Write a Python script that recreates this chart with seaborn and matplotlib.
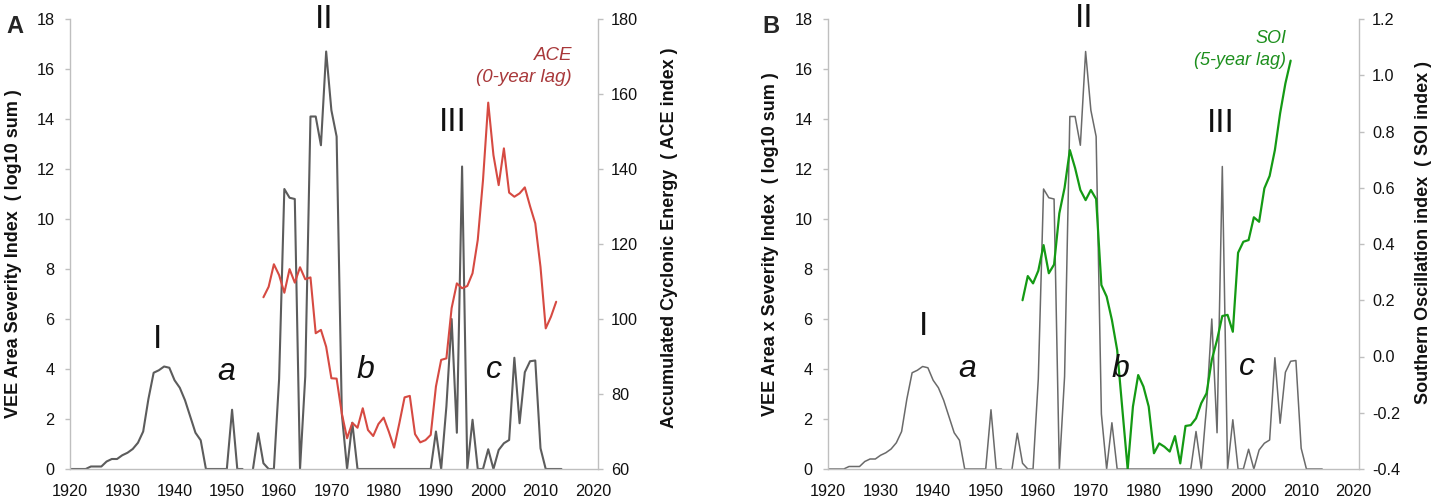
import numpy as np
import pandas as pd
import matplotlib
matplotlib.use("Agg")
import matplotlib.pyplot as plt
import seaborn as sns
from matplotlib.ticker import MultipleLocator, FormatStrFormatter

# ---------------- data ----------------
years = list(range(1920, 2015))
vee_index = [0, 0, 0, 0, 0.1, 0.1, 0.1, 0.3, 0.4, 0.4,
             0.55, 0.65, 0.8, 1.05, 1.5, 2.8, 3.85, 3.95, 4.1, 4.05,
             3.55, 3.25, 2.75, 2.1, 1.45, 1.15, 0, 0, 0, 0,
             0, 2.37, 0, 0, np.nan, 0, 1.43, 0.23, 0, 0,
             3.6, 11.2, 10.85, 10.8, 0, 3.7, 14.1, 14.1, 12.95, 16.7,
             14.35, 13.3, 2.2, 0, 1.85, 0, 0, 0, 0, 0,
             0, 0, 0, 0, 0, 0, 0, 0, 0, 0,
             1.5, 0, 2.5, 6.0, 1.45, 12.1, 0, 1.97, 0, 0,
             0.79, 0, 0.76, 1.03, 1.16, 4.45, 1.83, 3.87, 4.31, 4.34,
             0.83, 0, 0, 0, 0]

ace_years = list(range(1957, 2014))
ace_index = [105.8, 108.6, 114.6, 111.7, 107.0, 113.3, 109.7, 113.8, 110.6, 111.1,
             96.2, 97.1, 92.6, 84.2, 84.1, 74.8, 68.2, 72.3, 71.0, 76.2,
             70.4, 68.8, 72.0, 73.7, 69.9, 65.7, 72.2, 79.1, 79.5, 69.3,
             67.1, 67.7, 69.1, 82.0, 89.1, 89.5, 102.9, 109.5, 108.2, 108.8,
             112.2, 121.1, 137.0, 157.7, 143.7, 135.7, 145.5, 133.7, 132.6, 133.5,
             135.1, 130.1, 125.5, 113.9, 97.5, 100.6, 104.6]

soi_years = list(range(1957, 2009))
soi_index = [0.20, 0.286, 0.26, 0.305, 0.396, 0.296, 0.327, 0.509, 0.60, 0.734,
             0.67, 0.592, 0.556, 0.592, 0.56, 0.254, 0.213, 0.13, 0.023, -0.19,
             -0.40, -0.178, -0.066, -0.107, -0.178, -0.344, -0.309, -0.321, -0.338, -0.283,
             -0.38, -0.247, -0.244, -0.22, -0.166, -0.131, -0.012, 0.059, 0.144, 0.148,
             0.088, 0.369, 0.408, 0.414, 0.495, 0.479, 0.598, 0.642, 0.734, 0.865,
             0.971, 1.052]

x_ticks = list(range(1920, 2021, 10))
vee_ticks = list(range(0, 19, 2))
ace_ticks = list(range(60, 181, 20))
soi_ticks = [-0.4, -0.2, 0.0, 0.2, 0.4, 0.6, 0.8, 1.0, 1.2]

# ---------------- style ----------------
sns.set_style("white")
plt.rcParams['font.family'] = ['Liberation Sans', 'DejaVu Sans']
plt.rcParams['axes.unicode_minus'] = False

W, H = 1439, 501
fig = plt.figure(figsize=(W / 100, H / 100), dpi=100)

SPINE = "#bfbfbf"
GRAY = "#5c5c5c"
RED = "#d64a42"
RED_TXT = "#a8383a"
GREEN = "#149a14"
GREEN_TXT = "#1d8f1d"
NARROW = ['Liberation Sans Narrow', 'Liberation Sans', 'DejaVu Sans']


def px_axes(l, r, t, b):
    return [l / W, 1 - b / H, (r - l) / W, (b - t) / H]


def vee_segments():
    df = pd.DataFrame({"year": years, "vee": vee_index})
    df["seg"] = df["vee"].isna().cumsum()
    return [g.dropna() for _, g in df.groupby("seg")]


def style_axes(ax, ax2, rticks, rfmt, rlim):
    ax.set_xlim(1920, 2021)
    ax.set_ylim(0, 18)
    ax.set_xticks(x_ticks)
    ax.xaxis.set_minor_locator(MultipleLocator(5))
    ax.set_yticks(vee_ticks)
    ax2.set_ylim(*rlim)
    ax2.set_yticks(rticks)
    ax2.yaxis.set_major_formatter(FormatStrFormatter(rfmt))
    for a in (ax, ax2):
        a.set_xlabel("")
        a.set_ylabel("")
        for s in a.spines.values():
            s.set_color(SPINE)
            s.set_linewidth(1.0)
        a.spines["top"].set_visible(False)
    ax.spines["right"].set_visible(False)
    ax2.spines["left"].set_visible(False)
    ax2.spines["bottom"].set_visible(False)
    ax.tick_params(axis="x", which="both", direction="out", length=4.5, width=1,
                   color=SPINE, pad=6, labelsize=11.7, labelcolor="#111111")
    ax.tick_params(axis="y", direction="out", length=3.5, width=1, color=SPINE,
                   pad=7.5, labelsize=11.7, labelcolor="#111111", left=True)
    ax2.tick_params(axis="y", direction="out", length=3.5, width=1, color=SPINE,
                    pad=6, labelsize=11.7, labelcolor="#111111", right=True)
    for lab in ax.get_xticklabels() + ax.get_yticklabels() + ax2.get_yticklabels():
        lab.set_family(NARROW)


def ftext(x, y, s, **kw):
    fig.text(x / W, 1 - y / H, s, **kw)


# ---------------- panel A ----------------
axA = fig.add_axes(px_axes(70, 598, 19, 469))
for seg in vee_segments():
    sns.lineplot(x=seg["year"].to_numpy(), y=seg["vee"].to_numpy(), ax=axA,
                 color=GRAY, linewidth=1.5)
axA2 = axA.twinx()
sns.lineplot(x=ace_years, y=ace_index, ax=axA2, color=RED, linewidth=1.5)
style_axes(axA, axA2, ace_ticks, "%d", (60, 180))

# ---------------- panel B ----------------
axB = fig.add_axes(px_axes(828, 1359, 19, 469))
for seg in vee_segments():
    sns.lineplot(x=seg["year"].to_numpy(), y=seg["vee"].to_numpy(), ax=axB,
                 color="#6a6a6a", linewidth=1.1)
axB2 = axB.twinx()
sns.lineplot(x=soi_years, y=soi_index, ax=axB2, color=GREEN, linewidth=1.6)
style_axes(axB, axB2, soi_ticks, "%.1f", (-0.4, 1.2))

# ---------------- texts ----------------
lab_kw = dict(rotation=90, ha="center", va="center", fontsize=13, fontweight="bold",
              color="#111111")
ftext(14, 254, "VEE Area Severity Index  ( log10 sum )", **lab_kw)
ftext(670, 238, "Accumulated Cyclonic Energy  ( ACE index )", **lab_kw)
ftext(771, 244, "VEE Area x Severity Index  ( log10 sum )", **lab_kw)
ftext(1424, 232, "Southern Oscillation index  ( SOI index )", **lab_kw)

ftext(15, 33, "A", ha="center", va="baseline", fontsize=17, fontweight="heavy")
ftext(771, 33, "B", ha="center", va="baseline", fontsize=17, fontweight="heavy")

num_kw = dict(ha="center", va="baseline", fontsize=24, color="#111111")
let_kw = dict(ha="center", va="baseline", fontsize=23, style="italic", color="#111111")
for x, y, s in [(158, 348, "I"), (324, 28, "II"), (453, 131, "III"),
                (924, 335, "I"), (1084, 27, "II"), (1221, 132, "III")]:
    ftext(x, y, s, **num_kw)
for x, y, s in [(226, 380, "a"), (365, 378, "b"), (494, 378, "c"),
                (967, 377, "a"), (1120, 377, "b"), (1247, 375, "c")]:
    ftext(x, y, s, **let_kw)

ftext(572, 60, "ACE", ha="right", va="baseline", fontsize=13.5, style="italic", color=RED_TXT)
ftext(572, 82, "(0-year lag)", ha="right", va="baseline", fontsize=13.5, style="italic",
      color=RED_TXT)
ftext(1286, 43, "SOI", ha="right", va="baseline", fontsize=13, style="italic", color=GREEN_TXT)
ftext(1286, 65, "(5-year lag)", ha="right", va="baseline", fontsize=13, style="italic",
      color=GREEN_TXT)

fig.savefig("out.png", dpi=100)
